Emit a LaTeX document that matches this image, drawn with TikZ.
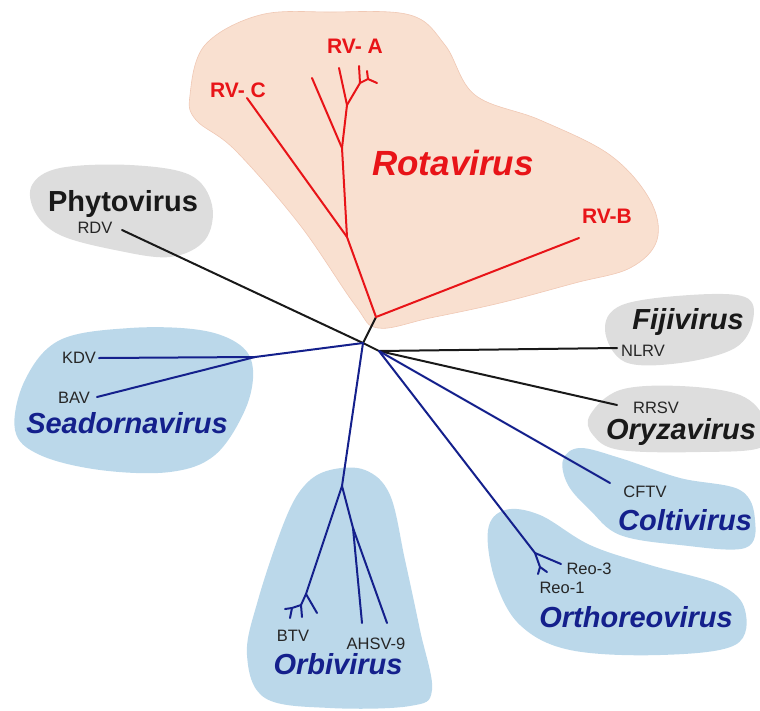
\documentclass[tikz,border=0pt]{standalone}
\usepackage{fontspec}
\setmainfont{Liberation Sans}
\usetikzlibrary{positioning}
\definecolor{rojorv}{RGB}{232,20,24}
\definecolor{azulreo}{RGB}{20,32,140}
\definecolor{fondorota}{RGB}{249,224,208}
\definecolor{bordrota}{RGB}{240,200,180}
\definecolor{fondogris}{RGB}{221,221,221}
\definecolor{fondoazul}{RGB}{187,216,234}

\begin{document}
\begin{tikzpicture}[x=1pt, y=-1pt,
        % Estilo general para las ramas
        rama/.style={
            line width=2pt,
            line cap=round,
            line join=round
        },
        % Ramas por color
        ramaroja/.style={rama, draw=rojorv},
        ramaazul/.style={rama, draw=azulreo},
        ramanegra/.style={rama, draw=black!90},
        % Estilo para las cepas
        cepa/.style={
            anchor=base,
            inner sep=0pt,
            text=black!85,
            font=\fontsize{16.5}{16.5}\selectfont
        },
        % Estilo para los generos
        genero/.style={
            anchor=base,
            inner sep=0pt,
            font=\fontsize{29}{29}\selectfont\bfseries\itshape
        },
        % Etiquetas de Rotavirus
        rvlabel/.style={
            anchor=base,
            inner sep=0pt,
            text=rojorv,
            font=\fontsize{21}{21}\selectfont\bfseries
        }
    ]
        \useasboundingbox (0,0) rectangle (760,710);

        % --- FONDOS ---
        \filldraw[fill=fondorota, draw=bordrota, line width=0.6pt] plot[smooth cycle, tension=0.6] coordinates {
            (190,95) (205,45) (260,15) (330,12) (410,15) (445,45) (475,95) (540,120)
            (610,155) (650,200) (657,240) (630,268) (575,283) (500,303) (430,318)
            (378,328) (355,305) (300,225) (235,150) (196,120)};
        \fill[fondogris] plot[smooth cycle, tension=0.6] coordinates {
            (32,185) (60,168) (130,165) (190,175) (212,205) (205,240) (170,257)
            (115,250) (60,235) (35,212)};
        \fill[fondoazul] plot[smooth cycle, tension=0.6] coordinates {
            (15,430) (25,380) (60,340) (130,328) (200,330) (240,345) (253,370)
            (245,410) (215,455) (170,472) (100,470) (40,455)};
        \fill[fondogris] plot[smooth cycle, tension=0.6] coordinates {
            (605,330) (622,305) (690,295) (745,297) (753,320) (735,348) (680,363) (625,362)};
        \fill[fondogris] plot[smooth cycle, tension=0.6] coordinates {
            (590,415) (620,390) (680,386) (740,395) (765,420) (762,447) (700,452)
            (620,450) (593,435)};
        \fill[fondoazul] plot[smooth cycle, tension=0.6] coordinates {
            (563,460) (580,448) (620,458) (680,478) (740,490) (755,520) (745,548)
            (680,545) (620,535) (590,510) (568,485)};
        \fill[fondoazul] plot[smooth cycle, tension=0.6] coordinates {
            (488,530) (505,510) (540,515) (590,545) (650,565) (720,585) (745,610)
            (735,645) (660,655) (570,650) (520,625) (495,580)};
        \fill[fondoazul] plot[smooth cycle, tension=0.6] coordinates {
            (330,470) (365,470) (390,495) (405,560) (420,630) (432,690) (410,706)
            (330,708) (265,698) (247,655) (258,600) (285,520) (305,485)};

        % --- NODOS INTERNOS Y PUNTAS ---
        \coordinate (raiz) at (363,343);
        \coordinate (raizrv) at (376,317);
        \coordinate (raizreo) at (379,351);
        \coordinate (tiprdv) at (122,230);
        \coordinate (tipnlrv) at (617,348);
        \coordinate (tiprrsv) at (617,405);
        \coordinate (tipcftv) at (610,483);
        % Rotavirus
        \coordinate (tiprvb) at (579,238);
        \coordinate (rv1) at (347,237);
        \coordinate (tiprvc) at (247,98);
        \coordinate (rv2) at (342,148);
        \coordinate (tiprv2) at (312,78);
        \coordinate (rv3) at (347,105);
        \coordinate (tiprv3) at (339,68);
        \coordinate (rv4) at (360,83);
        \coordinate (tiprv4) at (359,66);
        \coordinate (rv5) at (368,79);
        \coordinate (tiprv5a) at (367,71);
        \coordinate (tiprv5b) at (377,83);
        % Seadornavirus
        \coordinate (sea) at (255,357);
        \coordinate (tipkdv) at (99,358);
        \coordinate (tipbav) at (97,397);
        % Orbivirus
        \coordinate (orb) at (342,486);
        \coordinate (btv1) at (306,594);
        \coordinate (tipbtv1) at (317,613);
        \coordinate (btv2) at (301,605);
        \coordinate (tipbtv2) at (302,617);
        \coordinate (btv3) at (292,608);
        \coordinate (tipbtv3a) at (285,609);
        \coordinate (tipbtv3b) at (290,618);
        \coordinate (ahs) at (353,528);
        \coordinate (tipahs1) at (362,623);
        \coordinate (tipahs2) at (387,623);
        % Orthoreovirus
        \coordinate (reo) at (535,553);
        \coordinate (tipreo3) at (561,564);
        \coordinate (reo2) at (540,567);
        \coordinate (tipreo1a) at (538,574);
        \coordinate (tipreo1b) at (547,572);

        % --- ETIQUETAS ---
        \node[rvlabel] (rva) at (355,53) {RV- A};
        \node[rvlabel] (rvc) at (238,97) {RV- C};
        \node[rvlabel] (rvb) at (607,223) {RV-B};
        \node[anchor=base, inner sep=0pt, text=rojorv, font=\fontsize{35}{35}\selectfont\bfseries\itshape] (rota) at (453,175) {Rotavirus};

        \node[anchor=base, inner sep=0pt, text=black!90, font=\fontsize{29}{29}\selectfont\bfseries] (phyto) at (123,211) {Phytovirus};
        \node[cepa] (rdv) at (95,233) {RDV};

        \node[genero, text=black!90] (fiji) at (688,329) {Fijivirus};
        \node[cepa] (nlrv) at (643,356) {NLRV};
        \node[cepa] (rrsv) at (656,413) {RRSV};
        \node[genero, text=black!90] (oryza) at (681,439) {Oryzavirus};

        \node[cepa] (cftv) at (645,497) {CFTV};
        \node[genero, text=azulreo] (colti) at (685,530) {Coltivirus};

        \node[cepa] (reo3) at (589,574) {Reo-3};
        \node[cepa] (reo1) at (562,593) {Reo-1};
        \node[genero, text=azulreo] (ortho) at (636,627) {Orthoreovirus};

        \node[cepa] (btv) at (293,641) {BTV};
        \node[cepa] (ahsv) at (376,649) {AHSV-9};
        \node[genero, text=azulreo] (orbi) at (338,674) {Orbivirus};

        \node[cepa] (kdv) at (79,363) {KDV};
        \node[cepa] (bav) at (74,403) {BAV};
        \node[genero, text=azulreo] (seador) at (127,433) {Seadornavirus};

        % --- RAMAS ---
        \draw[ramanegra] (tiprdv) -- (raiz) -- (raizreo) -- (tipnlrv);
        \draw[ramanegra] (raiz) -- (raizrv);
        \draw[ramanegra] (raizreo) -- (tiprrsv);

        \draw[ramaroja] (raizrv) -- (tiprvb);
        \draw[ramaroja] (raizrv) -- (rv1) -- (rv2) -- (rv3) -- (rv4) -- (rv5) -- (tiprv5b);
        \draw[ramaroja] (rv1) -- (tiprvc);
        \draw[ramaroja] (rv2) -- (tiprv2);
        \draw[ramaroja] (rv3) -- (tiprv3);
        \draw[ramaroja] (rv4) -- (tiprv4);
        \draw[ramaroja] (rv5) -- (tiprv5a);

        \draw[ramaazul] (raiz) -- (sea) -- (tipkdv);
        \draw[ramaazul] (sea) -- (tipbav);

        \draw[ramaazul] (raiz) -- (orb) -- (btv1) -- (btv2) -- (tipbtv2);
        \draw[ramaazul] (btv1) -- (tipbtv1);
        \draw[ramaazul] (btv2) -- (btv3) -- (tipbtv3a);
        \draw[ramaazul] (btv3) -- (tipbtv3b);
        \draw[ramaazul] (orb) -- (ahs) -- (tipahs1);
        \draw[ramaazul] (ahs) -- (tipahs2);

        \draw[ramaazul] (raizreo) -- (tipcftv);
        \draw[ramaazul] (raizreo) -- (reo) -- (tipreo3);
        \draw[ramaazul] (reo) -- (reo2) -- (tipreo1a);
        \draw[ramaazul] (reo2) -- (tipreo1b);

    \end{tikzpicture}
\end{document}
